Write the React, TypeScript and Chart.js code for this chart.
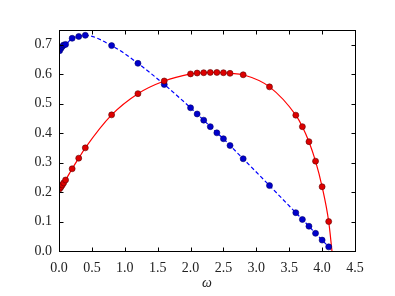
import React, { useEffect, useRef } from "react";
import { Chart, registerables } from "chart.js";

Chart.register(...registerables);

const omega = [0.01, 0.03, 0.05, 0.07, 0.1, 0.2, 0.3, 0.4, 0.8, 1.2, 1.6, 2.0, 2.1, 2.2, 2.3, 2.4, 2.5, 2.6, 2.8, 3.2, 3.6, 3.7, 3.8, 3.9, 4.0, 4.1];
const blueVals = [0.680, 0.688, 0.694, 0.699, 0.701, 0.722, 0.728, 0.732, 0.697, 0.637, 0.565, 0.486, 0.465, 0.444, 0.422, 0.401, 0.381, 0.358, 0.313, 0.222, 0.130, 0.107, 0.084, 0.060, 0.037, 0.014];
const redVals = [0.211, 0.217, 0.224, 0.231, 0.241, 0.279, 0.315, 0.350, 0.462, 0.534, 0.577, 0.601, 0.604, 0.605, 0.606, 0.606, 0.605, 0.603, 0.598, 0.557, 0.461, 0.422, 0.371, 0.305, 0.218, 0.100];

// curve end points
const curveStartX = 0;
const blueStart = 0.675;
const redStart = 0.205;
const curveEndX = 4.15;
const curveEndY = 0;

const xTicks = [0, 0.5, 1.0, 1.5, 2.0, 2.5, 3.0, 3.5, 4.0, 4.5];
const yTicks = [0, 0.1, 0.2, 0.3, 0.4, 0.5, 0.6, 0.7];

const FONT = "'Liberation Serif', 'DejaVu Serif', serif";

const framePlugin = {
  id: "frameTicks",
  afterDraw(chart: any) {
    const { ctx, chartArea } = chart;
    const { left, right, top, bottom } = chartArea;
    const xs = chart.scales.x;
    const ys = chart.scales.y;
    ctx.save();
    ctx.strokeStyle = "#000";
    ctx.lineWidth = 1;
    const L = Math.round(left) + 0.5;
    const R = Math.round(right) + 0.5;
    const T = Math.round(top) + 0.5;
    const B = Math.round(bottom) + 0.5;
    ctx.strokeRect(L, T, R - L, B - T);
    const len = 4;
    ctx.beginPath();
    xTicks.forEach((v) => {
      const p = Math.round(xs.getPixelForValue(v)) + 0.5;
      ctx.moveTo(p, B);
      ctx.lineTo(p, B - len);
      ctx.moveTo(p, T);
      ctx.lineTo(p, T + len);
    });
    yTicks.forEach((v) => {
      const p = Math.round(ys.getPixelForValue(v)) + 0.5;
      ctx.moveTo(L, p);
      ctx.lineTo(L + len, p);
      ctx.moveTo(R, p);
      ctx.lineTo(R - len, p);
    });
    ctx.stroke();
    ctx.restore();
  },
};

export default function App() {
  const ref = useRef<HTMLCanvasElement>(null);
  useEffect(() => {
    if (!ref.current) return;
    const bluePts = omega.map((x, i) => ({ x, y: blueVals[i] }));
    const redPts = omega.map((x, i) => ({ x, y: redVals[i] }));
    const blueLine = [{ x: curveStartX, y: blueStart }, ...bluePts, { x: curveEndX, y: curveEndY }];
    const redLine = [{ x: curveStartX, y: redStart }, ...redPts, { x: curveEndX, y: curveEndY }];
    const chart = new Chart(ref.current, {
      type: "scatter",
      data: {
        datasets: [
          {
            type: "line",
            data: blueLine,
            borderColor: "#0000ff",
            borderWidth: 1.2,
            borderDash: [4, 2.5],
            pointRadius: 0,
            showLine: true,
            cubicInterpolationMode: "monotone",
            fill: false,
            order: 3,
          } as any,
          {
            type: "line",
            data: redLine,
            borderColor: "#ff0000",
            borderWidth: 1.2,
            pointRadius: 0,
            showLine: true,
            cubicInterpolationMode: "monotone",
            fill: false,
            order: 2,
          } as any,
          {
            data: bluePts,
            backgroundColor: "#0000cc",
            borderColor: "#00006a",
            borderWidth: 0.6,
            pointRadius: 3,
            order: 1,
          },
          {
            data: redPts,
            backgroundColor: "#dd0000",
            borderColor: "#600000",
            borderWidth: 0.6,
            pointRadius: 3,
            order: 0,
          },
        ],
      },
      options: {
        responsive: false,
        animation: false,
        layout: { padding: { left: 0, right: 40, top: 30, bottom: 0 } },
        plugins: { legend: { display: false }, tooltip: { enabled: false } },
        scales: {
          x: {
            type: "linear",
            min: 0,
            max: 4.5,
            grid: { display: false, drawTicks: false },
            border: { display: false },
            afterBuildTicks: (s: any) => {
              s.ticks = xTicks.map((v) => ({ value: v }));
            },
            afterFit: (s: any) => {
              s.height = 45;
            },
            ticks: {
              padding: 9,
              color: "#222",
              font: { family: FONT, size: 14 },
              maxRotation: 0,
              callback: (v: any) => Number(v).toFixed(1),
            },
            title: {
              display: true,
              text: "ω",
              color: "#222",
              font: { family: FONT, size: 14, style: "italic" },
              padding: { top: 2, bottom: 4 },
            },
          },
          y: {
            type: "linear",
            min: 0,
            max: 0.75,
            grid: { display: false, drawTicks: false },
            border: { display: false },
            afterBuildTicks: (s: any) => {
              s.ticks = yTicks.map((v) => ({ value: v }));
            },
            afterFit: (s: any) => {
              s.width = 59;
            },
            ticks: {
              padding: 7,
              color: "#222",
              font: { family: FONT, size: 14 },
              callback: (v: any) => Number(v).toFixed(1),
            },
          },
        },
      },
      plugins: [framePlugin],
    });
    return () => chart.destroy();
  }, []);
  return (
    <div style={{ position: "absolute", left: 0, top: 0, width: 395, height: 296, background: "#fff" }}>
      <canvas ref={ref} width={395} height={296} />
    </div>
  );
}
